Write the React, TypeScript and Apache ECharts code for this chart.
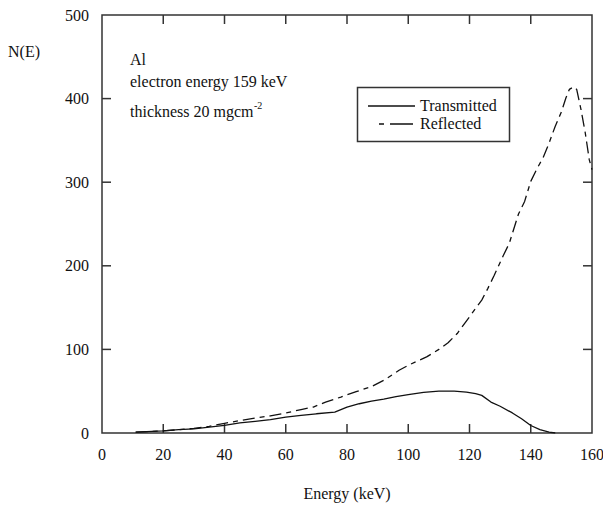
import React, { useEffect, useRef } from "react";
import * as echarts from "echarts";

// Electron spectra N(E) versus energy (keV)
const energyTransmitted = [11, 20, 25, 30, 35, 40, 45, 50, 55, 60, 65, 70, 76, 80, 84, 88, 92, 96, 100, 105, 110, 115, 119, 122, 124, 127, 130, 134, 137, 140, 143, 146, 148];
const transmitted = [1, 2.5, 4, 5, 7, 9, 12, 14, 16, 19, 21, 23, 25, 31, 35, 38, 40.5, 43.5, 46, 48.5, 50, 50, 49, 47, 45, 37, 32, 24, 17, 9, 4, 1, 0];

const energyReflected = [11, 20, 25, 30, 35, 40, 46, 50, 55, 60, 65, 69, 73, 78, 83, 88, 92, 97, 100, 106, 110, 113, 116, 120, 124, 126, 128, 131, 133, 136, 138, 140, 142, 144, 146, 148, 150, 151.5, 152.6, 154, 155, 156.4, 157.8, 159.1, 160];
const reflected = [1, 2.5, 4, 5.5, 8, 11.5, 15.5, 18, 20.5, 24, 28, 31, 37, 43, 49.5, 55.5, 63, 75, 81, 91, 100, 108, 119, 139, 159, 173, 188, 212, 227, 262, 277, 301, 316, 329, 347, 367, 384, 401, 411, 414, 411, 387, 359, 327, 315];

const xRange = { min: 0, max: 160, interval: 20 };
const yRange = { min: 0, max: 500, interval: 100 };
const xTickValues = [20, 40, 60, 80, 100, 120, 140];
const yTickValues = [100, 200, 300, 400];

const seriesNames = ["Transmitted", "Reflected"];
const annotations = ["Al", "electron energy 159 keV", "thickness 20 mgcm", "-2"];

const FONT = "Liberation Serif";
const INK = "#111";
const FRAME = "#333";
const TICK = 9;

function pairs(xs: number[], ys: number[]) {
  return xs.map((x, i) => [x, ys[i]]);
}

function serifText(text: string, left: number, top: number, size = 16) {
  return {
    type: "text",
    left,
    top,
    style: { text, fill: INK, font: `${size}px "${FONT}"` },
  };
}

// Frame items: kind 0 = energy tick (top + bottom), 1 = N(E) tick (left + right), 2 = plot border
const frameItems = [
  ...xTickValues.map((v) => [v, yRange.min, 0]),
  ...yTickValues.map((v) => [xRange.min, v, 1]),
  [xRange.min, yRange.min, 2],
];

function renderFrame(_params: any, api: any) {
  const kind = api.value(2);
  const style = { stroke: FRAME, lineWidth: 1.5, fill: "none" };
  if (kind === 0) {
    const v = api.value(0);
    const b = api.coord([v, yRange.min]);
    const t = api.coord([v, yRange.max]);
    return {
      type: "group",
      children: [
        { type: "line", shape: { x1: b[0], y1: b[1], x2: b[0], y2: b[1] - TICK }, style },
        { type: "line", shape: { x1: t[0], y1: t[1], x2: t[0], y2: t[1] + TICK }, style },
      ],
    };
  }
  if (kind === 1) {
    const v = api.value(1);
    const l = api.coord([xRange.min, v]);
    const r = api.coord([xRange.max, v]);
    return {
      type: "group",
      children: [
        { type: "line", shape: { x1: l[0], y1: l[1], x2: l[0] + TICK, y2: l[1] }, style },
        { type: "line", shape: { x1: r[0], y1: r[1], x2: r[0] - TICK, y2: r[1] }, style },
      ],
    };
  }
  const tl = api.coord([xRange.min, yRange.max]);
  const br = api.coord([xRange.max, yRange.min]);
  return {
    type: "rect",
    shape: { x: tl[0], y: tl[1], width: br[0] - tl[0], height: br[1] - tl[1] },
    style,
  };
}

export default function App() {
  const ref = useRef<HTMLDivElement>(null);

  useEffect(() => {
    if (!ref.current) return;
    const chart = echarts.init(ref.current, undefined, { renderer: "svg" });
    const labelStyle = { color: INK, fontFamily: FONT, fontSize: 16 };

    chart.setOption({
      animation: false,
      backgroundColor: "#fff",
      grid: { left: 102, right: 11, top: 15, bottom: 74, containLabel: false, outerBoundsMode: "none" },
      xAxis: {
        type: "value",
        ...xRange,
        position: "bottom",
        splitLine: { show: false },
        axisLine: { show: false },
        axisTick: { show: false },
        axisLabel: { ...labelStyle, margin: 13 },
        name: "Energy (keV)",
        nameLocation: "middle",
        nameGap: 52,
        nameTextStyle: { ...labelStyle },
      },
      yAxis: {
        type: "value",
        ...yRange,
        position: "left",
        splitLine: { show: false },
        axisLine: { show: false },
        axisTick: { show: false },
        axisLabel: { ...labelStyle, margin: 13 },
      },
      series: [
        {
          name: seriesNames[0],
          type: "line",
          data: pairs(energyTransmitted, transmitted),
          symbol: "none",
          showSymbol: false,
          lineStyle: { color: INK, width: 1.3 },
        },
        {
          name: seriesNames[1],
          type: "line",
          data: pairs(energyReflected, reflected),
          symbol: "none",
          showSymbol: false,
          lineStyle: { color: INK, width: 1.3, type: [12, 5, 5, 5] },
        },
        {
          name: "frame",
          type: "custom",
          silent: true,
          clip: false,
          data: frameItems,
          renderItem: renderFrame,
        },
      ],
      graphic: [
        serifText("N(E)", 8, 43),
        serifText(annotations[0], 130, 51),
        serifText(annotations[1], 130, 73),
        serifText(annotations[2], 130, 103),
        serifText(annotations[3], 254, 100, 10),
        // legend box
        {
          type: "rect",
          shape: { x: 357.5, y: 87.5, width: 152, height: 54 },
          style: { fill: "#fff", stroke: FRAME, lineWidth: 1.5 },
        },
        {
          type: "line",
          shape: { x1: 368, y1: 106, x2: 415, y2: 106 },
          style: { stroke: INK, lineWidth: 1.3 },
        },
        serifText(seriesNames[0], 420, 97),
        {
          type: "line",
          shape: { x1: 379, y1: 124, x2: 413, y2: 124 },
          style: { stroke: INK, lineWidth: 1.3, lineDash: [5, 6, 23, 6] },
        },
        serifText(seriesNames[1], 420, 115),
      ],
    });

    return () => chart.dispose();
  }, []);

  return (
    <div
      ref={ref}
      style={{ position: "fixed", left: 0, top: 0, width: 603, height: 507, background: "#fff" }}
    />
  );
}
